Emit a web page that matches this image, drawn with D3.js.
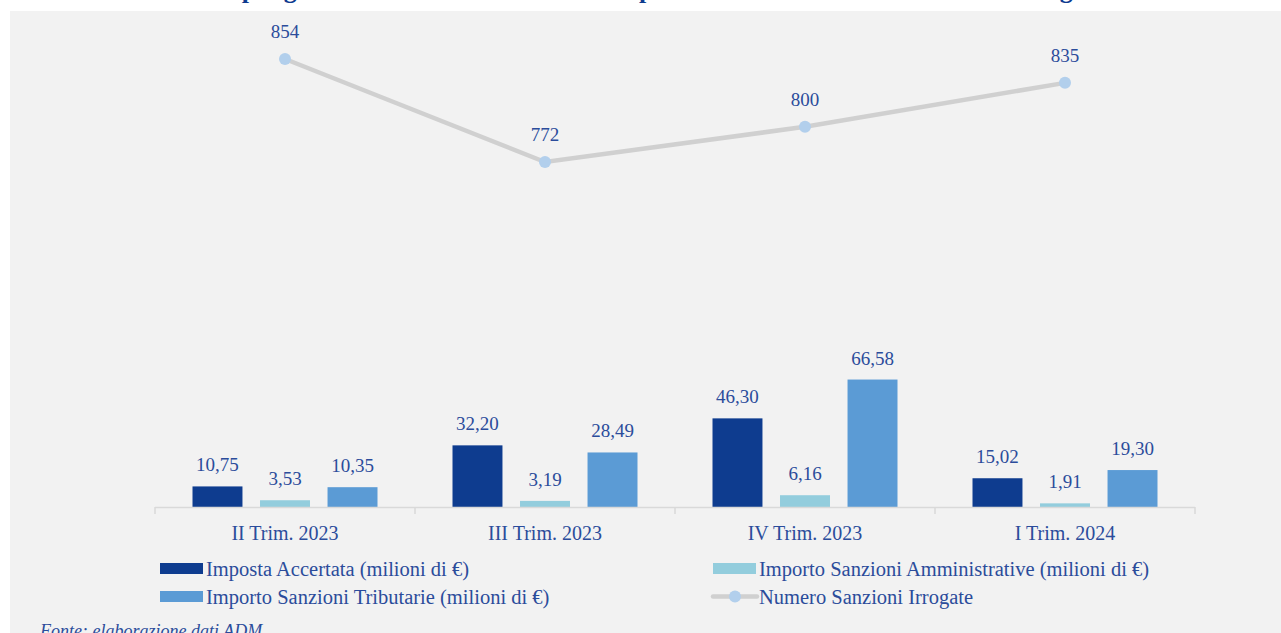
<!DOCTYPE html>
<html>
<head>
<meta charset="utf-8">
<script src="https://cdn.jsdelivr.net/npm/d3@7"></script>
<style>
  body { margin: 0; background: #ffffff; }
  svg { display: block; font-family: "Liberation Serif", "Times New Roman", serif; }
</style>
</head>
<body>
<script>
// chart.js

var width = 1281,
    height = 633;

// Data.
var categories = ["II Trim. 2023", "III Trim. 2023", "IV Trim. 2023", "I Trim. 2024"];
var impostaAccertata = [10.75, 32.20, 46.30, 15.02];
var sanzioniAmministrative = [3.53, 3.19, 6.16, 1.91];
var sanzioniTributarie = [10.35, 28.49, 66.58, 19.30];
var numeroSanzioni = [854, 772, 800, 835];

var seriesNames = [
  "Imposta Accertata (milioni di €)",
  "Importo Sanzioni Amministrative (milioni di €)",
  "Importo Sanzioni Tributarie (milioni di €)",
  "Numero Sanzioni Irrogate"
];
var titleText = "Riepilogo trimestrale delle sanzioni: importo delle sanzioni e numero atti irrogati";
var sourceText = "Fonte: elaborazione dati ADM";

var barColors = ["#0e3c8f", "#93cddd", "#5b9bd5"];
var textColor = "#2b4c9b";

var svg = d3.select("body").append("svg")
    .attr("width", width)
    .attr("height", height);

// Background: white page with the grey chart panel.
svg.append("rect").attr("width", width).attr("height", height).attr("fill", "#ffffff");
svg.append("rect")
    .attr("x", 10).attr("y", 11)
    .attr("width", width - 10).attr("height", height - 11)
    .attr("fill", "#f2f2f2");

// Title sits above the panel and is cut by the page top (as in the source).
svg.append("text")
    .attr("x", 653).attr("y", -2)
    .attr("text-anchor", "middle")
    .style("font-size", "26px")
    .style("font-weight", "bold")
    .attr("fill", "#0e3b8f")
    .text(titleText);

// Scales.
var xScale = d3.scaleBand()
    .domain(categories)
    .range([155, 1195]);

var xSub = d3.scaleBand()
    .domain([0, 1, 2])
    .range([0, 185])
    .paddingInner(0.26);

var yBar = d3.scaleLinear()
    .domain([0, 70])
    .range([507, 373]);

var yLine = d3.scaleLinear()
    .domain([500, 900])
    .range([503.7, 1.2]);

// Bars.
var barSeries = [impostaAccertata, sanzioniAmministrative, sanzioniTributarie];
var barData = [];
barSeries.forEach(function(values, s) {
  values.forEach(function(v, i) {
    barData.push({ cat: categories[i], s: s, value: v });
  });
});

function barX(d) {
  var center = xScale(d.cat) + xScale.bandwidth() / 2;
  return center - 92.5 + xSub(d.s);
}

svg.selectAll("rect.bar").data(barData).enter().append("rect")
    .attr("class", "bar")
    .attr("x", barX)
    .attr("y", function(d) { return yBar(d.value); })
    .attr("width", xSub.bandwidth())
    .attr("height", function(d) { return yBar(0) - yBar(d.value); })
    .attr("fill", function(d) { return barColors[d.s]; });

svg.selectAll("text.barlabel").data(barData).enter().append("text")
    .attr("class", "barlabel")
    .attr("x", function(d) { return barX(d) + xSub.bandwidth() / 2; })
    .attr("y", function(d) { return yBar(d.value) - 15; })
    .attr("text-anchor", "middle")
    .style("font-size", "19px")
    .attr("fill", textColor)
    .text(function(d) { return d3.format(".2f")(d.value).replace(".", ","); });

// X axis: labels from d3 axis, boundary ticks drawn between categories.
var xAxis = d3.axisBottom(xScale).tickSize(0).tickPadding(19);
var axisG = svg.append("g")
    .attr("transform", "translate(0," + yBar(0) + ")")
    .call(xAxis);
axisG.select(".domain").remove();
axisG.selectAll("text")
    .style("font-size", "20px")
    .style("font-family", "'Liberation Serif', serif")
    .attr("fill", textColor);

var bounds = categories.map(function(c) { return xScale(c); }).concat([xScale.range()[1]]);
svg.append("line")
    .attr("x1", xScale.range()[0]).attr("x2", xScale.range()[1])
    .attr("y1", yBar(0) + 0.5).attr("y2", yBar(0) + 0.5)
    .attr("stroke", "#d9d9d9").attr("stroke-width", 1.5);
svg.selectAll("line.tick").data(bounds).enter().append("line")
    .attr("class", "tick")
    .attr("x1", function(d) { return d; }).attr("x2", function(d) { return d; })
    .attr("y1", yBar(0)).attr("y2", yBar(0) + 7)
    .attr("stroke", "#d9d9d9").attr("stroke-width", 1.5);

// Line series.
var lineData = numeroSanzioni.map(function(v, i) {
  return { x: xScale(categories[i]) + xScale.bandwidth() / 2, value: v };
});
var line = d3.line()
    .x(function(d) { return d.x; })
    .y(function(d) { return yLine(d.value); });

svg.append("path")
    .datum(lineData)
    .attr("d", line)
    .attr("fill", "none")
    .attr("stroke", "#d0d0d0")
    .attr("stroke-width", 4.5);

svg.selectAll("circle.pt").data(lineData).enter().append("circle")
    .attr("class", "pt")
    .attr("cx", function(d) { return d.x; })
    .attr("cy", function(d) { return yLine(d.value); })
    .attr("r", 6)
    .attr("fill", "#b2cfec");

svg.selectAll("text.ptlabel").data(lineData).enter().append("text")
    .attr("class", "ptlabel")
    .attr("x", function(d) { return d.x; })
    .attr("y", function(d) { return yLine(d.value) - 21; })
    .attr("text-anchor", "middle")
    .style("font-size", "19px")
    .attr("fill", textColor)
    .text(function(d) { return d.value; });

// Legend.
var legendItems = [
  { name: seriesNames[0], type: "bar", color: barColors[0], x: 160, y: 563 },
  { name: seriesNames[1], type: "bar", color: barColors[1], x: 713, y: 563 },
  { name: seriesNames[2], type: "bar", color: barColors[2], x: 160, y: 591 },
  { name: seriesNames[3], type: "line", color: "#d0d0d0", x: 713, y: 591 }
];
var legend = svg.selectAll("g.legend").data(legendItems).enter().append("g")
    .attr("class", "legend")
    .attr("transform", function(d) { return "translate(" + d.x + "," + d.y + ")"; });

legend.filter(function(d) { return d.type === "bar"; }).append("rect")
    .attr("width", 43).attr("height", 11)
    .attr("fill", function(d) { return d.color; });
var lineItem = legend.filter(function(d) { return d.type === "line"; });
lineItem.append("line")
    .attr("x1", 0).attr("x2", 44).attr("y1", 5.5).attr("y2", 5.5)
    .attr("stroke", "#d0d0d0").attr("stroke-width", 4.5).attr("stroke-linecap", "round");
lineItem.append("circle")
    .attr("cx", 22).attr("cy", 5.5).attr("r", 6).attr("fill", "#b2cfec");

legend.append("text")
    .attr("x", 46).attr("y", 13)
    .style("font-size", "20.5px")
    .attr("fill", textColor)
    .text(function(d) { return d.name; });

// Source note, cut by the bottom edge (as in the source).
svg.append("text")
    .attr("x", 40).attr("y", 637)
    .style("font-size", "18px")
    .style("font-style", "italic")
    .attr("fill", "#2b4c9b")
    .text(sourceText);
</script>
</body>
</html>
